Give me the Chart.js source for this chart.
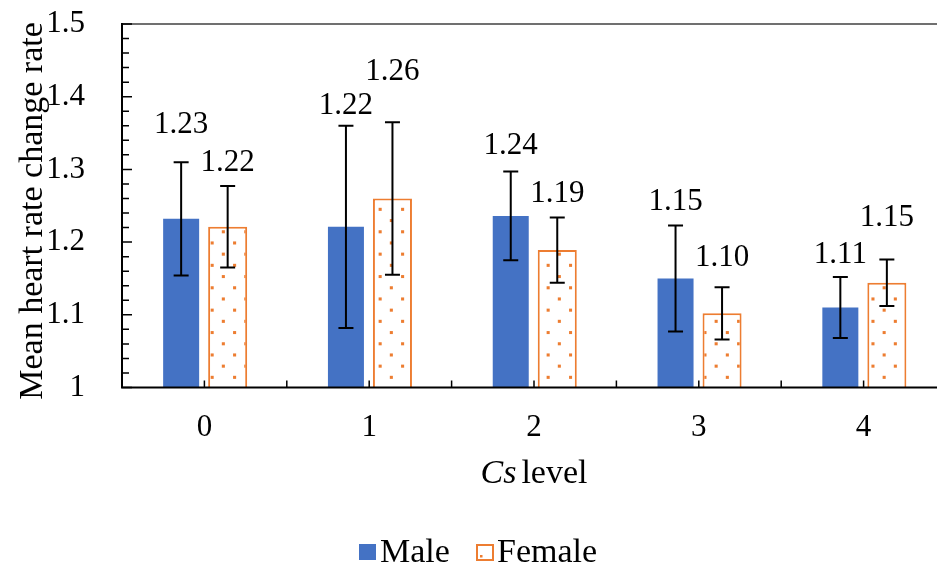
<!DOCTYPE html>
<html>
<head>
<meta charset="utf-8">
<script src="https://cdn.jsdelivr.net/npm/chart.js@4.4.0/dist/chart.umd.min.js"></script>
<style>
  html, body { margin: 0; padding: 0; overflow: hidden; background: #fff; }
  #wrap { position: relative; width: 950px; height: 567px; }
</style>
</head>
<body>
<div id="wrap"><canvas id="hr" width="950" height="567"></canvas></div>
<script>
// data
var categories = ['0', '1', '2', '3', '4'];
var maleMean = [1.232, 1.221, 1.236, 1.150, 1.110];
var maleSd = [0.078, 0.139, 0.061, 0.073, 0.042];
var femaleMean = [1.221, 1.260, 1.189, 1.102, 1.144];
var femaleSd = [0.056, 0.105, 0.045, 0.036, 0.032];
var maleLabels = ['1.23', '1.22', '1.24', '1.15', '1.11'];
var femaleLabels = ['1.22', '1.26', '1.19', '1.10', '1.15'];
// where the value labels sit (in axis units, as placed in the original)
var maleLabelAt = [1.364, 1.391, 1.336, 1.259, 1.186];
var femaleLabelAt = [1.312, 1.438, 1.269, 1.182, 1.237];

var SERIF = '"Liberation Serif", "Times New Roman", serif';
var BLUE = '#4472C4';
var ORANGE = '#ED7D31';

// dotted fill for the female bars
function makeDots(ctx) {
  var tile = document.createElement('canvas');
  tile.width = 22; tile.height = 22;
  var t = tile.getContext('2d');
  t.fillStyle = '#fff';
  t.fillRect(0, 0, 22, 22);
  t.fillStyle = ORANGE;
  t.fillRect(0, 0, 3, 3);
  t.fillRect(11, 11, 3, 3);
  var p = ctx.createPattern(tile, 'repeat');
  p.setTransform(new DOMMatrix().translate(20.2, 6.2).scale(22.4 / 22));
  return p;
}

var decor = {
  id: 'decor',
  afterDatasetsDraw: function(chart) {
    var ctx = chart.ctx;
    var y = chart.scales.y;
    var sets = [
      {mean: maleMean, sd: maleSd, labels: maleLabels, at: maleLabelAt},
      {mean: femaleMean, sd: femaleSd, labels: femaleLabels, at: femaleLabelAt}
    ];
    ctx.save();
    sets.forEach(function(s, di) {
      var meta = chart.getDatasetMeta(di);
      meta.data.forEach(function(bar, i) {
        var hi = y.getPixelForValue(s.mean[i] + s.sd[i]);
        var lo = y.getPixelForValue(s.mean[i] - s.sd[i]);
        ctx.strokeStyle = '#000';
        ctx.lineWidth = 2;
        ctx.beginPath();
        ctx.moveTo(bar.x, hi); ctx.lineTo(bar.x, lo);
        ctx.moveTo(bar.x - 7.5, hi); ctx.lineTo(bar.x + 7.5, hi);
        ctx.moveTo(bar.x - 7.5, lo); ctx.lineTo(bar.x + 7.5, lo);
        ctx.stroke();

        ctx.fillStyle = '#000';
        ctx.font = '31px ' + SERIF;
        ctx.textAlign = 'center';
        ctx.textBaseline = 'alphabetic';
        ctx.fillText(s.labels[i], bar.x, y.getPixelForValue(s.at[i]) + 10.5);
      });
    });
    ctx.restore();
  },
  afterDraw: function(chart) {
    var ctx = chart.ctx;
    var a = chart.chartArea;
    var y = chart.scales.y;
    ctx.save();

    // top frame line
    ctx.strokeStyle = '#404040';
    ctx.lineWidth = 1.5;
    ctx.beginPath();
    ctx.moveTo(a.left, a.top); ctx.lineTo(a.right, a.top);
    ctx.stroke();

    // axes
    ctx.strokeStyle = '#000';
    ctx.lineWidth = 2;
    ctx.beginPath();
    ctx.moveTo(a.left, a.top - 1); ctx.lineTo(a.left, a.bottom);
    ctx.lineTo(a.right, a.bottom);
    ctx.stroke();

    // inward ticks on y: major 0.1, minor 0.02
    ctx.lineWidth = 1.5;
    ctx.beginPath();
    for (var k = 0; k <= 25; k++) {
      var py = y.getPixelForValue(1 + k * 0.02);
      var len = (k % 5 === 0) ? 10 : 7;
      ctx.moveTo(a.left, py); ctx.lineTo(a.left + len, py);
    }
    // inward ticks on x at every half category
    var step = (a.right - a.left) / (categories.length * 2);
    for (var j = 1; j <= categories.length * 2; j++) {
      var px = a.left + j * step;
      ctx.moveTo(px, a.bottom); ctx.lineTo(px, a.bottom - 7);
    }
    ctx.stroke();

    // y title
    ctx.fillStyle = '#000';
    ctx.font = '34px ' + SERIF;
    ctx.textAlign = 'center';
    ctx.textBaseline = 'middle';
    ctx.save();
    ctx.translate(33, 211);
    ctx.rotate(-Math.PI / 2);
    ctx.fillText('Mean heart rate change rate', 0, 0);
    ctx.restore();

    // x title: italic "Cs" + "level"
    ctx.textAlign = 'left';
    ctx.textBaseline = 'alphabetic';
    ctx.font = 'italic 34px ' + SERIF;
    var w1 = ctx.measureText('Cs').width;
    ctx.font = '34px ' + SERIF;
    var w2 = ctx.measureText('level').width;
    var gap = 5;
    var x0 = (a.left + a.right) / 2 - (w1 + gap + w2) / 2;
    ctx.font = 'italic 34px ' + SERIF;
    ctx.fillText('Cs', x0, 483);
    ctx.font = '34px ' + SERIF;
    ctx.fillText('level', x0 + w1 + gap, 483);

    // legend
    ctx.fillStyle = BLUE;
    ctx.fillRect(359, 544, 17, 16);
    ctx.fillStyle = '#fff';
    ctx.fillRect(477, 545, 16, 15);
    ctx.strokeStyle = ORANGE;
    ctx.lineWidth = 2;
    ctx.strokeRect(477, 545, 16, 15);
    ctx.fillStyle = ORANGE;
    ctx.fillRect(480, 555, 2.5, 2.5);
    ctx.fillStyle = '#000';
    ctx.font = '34px ' + SERIF;
    ctx.fillText(chart.data.datasets[0].label, 380, 562);
    ctx.fillText(chart.data.datasets[1].label, 497, 562);

    ctx.restore();
  }
};

var ctx = document.getElementById('hr').getContext('2d');
new Chart(ctx, {
  type: 'bar',
  data: {
    labels: categories,
    datasets: [{
      label: 'Male',
      data: maleMean,
      backgroundColor: BLUE,
      borderWidth: 0,
      barPercentage: 0.774,
      categoryPercentage: 0.5645
    }, {
      label: 'Female',
      data: femaleMean,
      backgroundColor: makeDots(ctx),
      borderColor: ORANGE,
      borderWidth: 2,
      barPercentage: 0.839,
      categoryPercentage: 0.5645
    }]
  },
  options: {
    responsive: false,
    animation: false,
    events: [],
    layout: { padding: { top: 24, right: 4, left: 0, bottom: 0 } },
    plugins: { legend: { display: false }, tooltip: { enabled: false } },
    scales: {
      x: {
        grid: { display: false, drawTicks: false },
        border: { display: false },
        afterFit: function(s) { s.height = 179.5; s.paddingLeft = 0; s.paddingRight = 0; },
        ticks: { padding: 22, color: '#000', font: { family: SERIF, size: 31 } }
      },
      y: {
        min: 1,
        max: 1.5,
        grid: { display: false, drawTicks: false },
        border: { display: false },
        afterFit: function(s) { s.width = 122; s.paddingTop = 0; s.paddingBottom = 0; },
        ticks: {
          stepSize: 0.1,
          padding: 37,
          color: '#000',
          font: { family: SERIF, size: 31 },
          callback: function(v) { return Math.abs(v - 1) < 1e-9 ? '1' : v.toFixed(1); }
        }
      }
    }
  },
  plugins: [decor]
});
</script>
</body>
</html>
